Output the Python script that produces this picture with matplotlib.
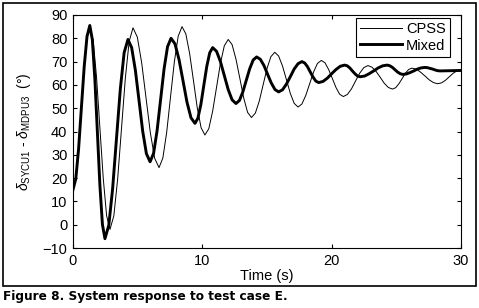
import matplotlib
matplotlib.use('Agg')
import matplotlib.pyplot as plt
from matplotlib.patches import Rectangle

# Time samples and rotor angle difference (deg)
t_cpss = [0, 0.217, 0.433, 0.65, 0.867, 1.083, 1.3,
          1.56, 1.82, 2.08, 2.34, 2.6, 2.86,
          3.157, 3.453, 3.75, 4.047, 4.343, 4.64,
          4.975, 5.31, 5.645, 5.98, 6.315, 6.65,
          6.947, 7.243, 7.54, 7.837, 8.133, 8.43,
          8.725, 9.02, 9.315, 9.61, 9.905, 10.2,
          10.5, 10.8, 11.1, 11.4, 11.7, 12.0,
          12.3, 12.6, 12.9, 13.2, 13.5, 13.8,
          14.1, 14.4, 14.7, 15.0, 15.3, 15.6,
          15.9, 16.2, 16.5, 16.8, 17.1, 17.4,
          17.7, 18.0, 18.3, 18.6, 18.9, 19.2,
          19.483, 19.767, 20.05, 20.333, 20.617, 20.9,
          21.217, 21.533, 21.85, 22.167, 22.483, 22.8,
          23.117, 23.433, 23.75, 24.067, 24.383, 24.7,
          24.95, 25.2, 25.45, 25.7, 25.95, 26.2,
          26.533, 26.867, 27.2, 27.533, 27.867, 28.2,
          28.5, 28.8, 29.1, 29.4, 29.7, 30.0]
cpss = [15, 19.7, 32.5, 50, 67.5, 80.3, 85,
        79.2, 63.3, 41.5, 19.8, 3.8, -2,
        3.8, 19.6, 41.3, 62.9, 78.7, 84.5,
        80.5, 69.5, 54.5, 39.5, 28.5, 24.5,
        28.6, 39.6, 54.8, 69.9, 80.9, 85,
        81.9, 73.4, 61.8, 50.1, 41.6, 38.5,
        41.2, 48.8, 59, 69.3, 76.8, 79.5,
        77.3, 71.1, 62.8, 54.4, 48.2, 46,
        47.9, 53, 60, 67, 72.1, 74,
        72.4, 68.1, 62.3, 56.4, 52.1, 50.5,
        51.8, 55.5, 60.5, 65.5, 69.2, 70.5,
        69.5, 66.6, 62.8, 58.9, 56.0, 55,
        55.9, 58.3, 61.7, 65.0, 67.4, 68.3,
        67.6, 65.8, 63.3, 60.7, 58.9, 58.2,
        58.8, 60.5, 62.7, 65.0, 66.6, 67.2,
        66.8, 65.5, 63.9, 62.2, 61.0, 60.5,
        60.9, 62.0, 63.5, 65.0, 66.1, 66.5]

t_mixed = [0, 0.217, 0.433, 0.65, 0.867, 1.083, 1.3,
           1.495, 1.69, 1.885, 2.08, 2.275, 2.47,
           2.767, 3.063, 3.36, 3.657, 3.953, 4.25,
           4.535, 4.82, 5.105, 5.39, 5.675, 5.96,
           6.23, 6.5, 6.77, 7.04, 7.31, 7.58,
           7.888, 8.197, 8.505, 8.813, 9.122, 9.43,
           9.658, 9.887, 10.115, 10.343, 10.572, 10.8,
           11.1, 11.4, 11.7, 12.0, 12.3, 12.6,
           12.867, 13.133, 13.4, 13.667, 13.933, 14.2,
           14.483, 14.767, 15.05, 15.333, 15.617, 15.9,
           16.2, 16.5, 16.8, 17.1, 17.4, 17.7,
           17.917, 18.133, 18.35, 18.567, 18.783, 19.0,
           19.333, 19.667, 20.0, 20.333, 20.667, 21.0,
           21.2, 21.4, 21.6, 21.8, 22.0, 22.2,
           22.55, 22.9, 23.25, 23.6, 23.95, 24.3,
           24.5, 24.7, 24.9, 25.1, 25.3, 25.5,
           25.783, 26.067, 26.35, 26.633, 26.917, 27.2,
           27.4, 27.6, 27.8, 28.0, 28.2, 28.4,
           29.2, 30.0]
mixed = [15, 19.7, 32.6, 50.3, 67.9, 80.8, 85.5,
         79.4, 62.6, 39.8, 16.9, 0.1, -6,
         -0.3, 15.4, 36.8, 58.1, 73.8, 79.5,
         76.0, 66.4, 53.3, 40.1, 30.5, 27,
         30.6, 40.3, 53.5, 66.8, 76.4, 80,
         77.6, 70.9, 61.8, 52.6, 45.9, 43.5,
         45.7, 51.6, 59.8, 67.9, 73.8, 76,
         74.4, 70, 64, 58, 53.6, 52,
         53.3, 57, 62, 67, 70.7, 72,
         71.0, 68.3, 64.5, 60.8, 58.0, 57,
         57.9, 60.3, 63.5, 66.8, 69.1, 70,
         69.4, 67.8, 65.5, 63.3, 61.6, 61,
         61.5, 62.9, 64.8, 66.6, 68.0, 68.5,
         68.2, 67.3, 66.0, 64.8, 63.8, 63.5,
         63.8, 64.8, 66.0, 67.3, 68.2, 68.5,
         68.2, 67.5, 66.5, 65.5, 64.8, 64.5,
         64.7, 65.3, 66.0, 66.8, 67.3, 67.5,
         67.4, 67.1, 66.8, 66.4, 66.1, 66.0,
         66.1, 66.2]

x_ticks = [0, 10, 20, 30]
y_ticks = [-10, 0, 10, 20, 30, 40, 50, 60, 70, 80, 90]

plt.rcParams['font.family'] = ['Liberation Sans', 'DejaVu Sans']
plt.rcParams['mathtext.fontset'] = 'custom'
plt.rcParams['mathtext.rm'] = 'Liberation Sans'
plt.rcParams['mathtext.it'] = 'Liberation Sans:italic'

fig = plt.figure(figsize=(4.79, 3.08), dpi=100)
ax = fig.add_axes([0.1524, 0.1948, 0.81, 0.7565])

# Plot both controllers
ax.plot(t_cpss, cpss, color='black', linewidth=0.7, label='CPSS')
ax.plot(t_mixed, mixed, color='black', linewidth=2.1, label='Mixed')

ax.set_xlim(0, 30)
ax.set_ylim(-10, 90)
ax.set_xticks(x_ticks)
ax.set_yticks(y_ticks)
ax.tick_params(direction='in', length=3, width=0.8, labelsize=10.5,
               top=True, right=True, pad=4)
for s in ax.spines.values():
    s.set_linewidth(0.8)

# Labels
ax.set_xlabel('Time (s)', fontsize=10.5, labelpad=1)
ax.set_ylabel(r'$\delta_{\mathrm{SYCU1}}$ - $\delta_{\mathrm{MDPU3}}$  (°)', fontsize=10, labelpad=7)

leg = ax.legend(loc='upper right', bbox_to_anchor=(0.9716, 0.987), borderaxespad=0,
                fontsize=10.5, fancybox=False, framealpha=1, edgecolor='black',
                handlelength=2.9, handletextpad=0.25, labelspacing=0.15, borderpad=0.3)
leg.get_frame().set_linewidth(0.8)

# Outer frame and caption
fig.patches.append(Rectangle((0.0063, 0.0714), 0.987, 0.919, transform=fig.transFigure,
                             fill=False, edgecolor='black', linewidth=1.2))
fig.text(0.007, 0.036, 'Figure 8. System response to test case E.', fontsize=8.7,
         fontweight='bold', family='DejaVu Sans', va='center', ha='left')

plt.savefig('out.png', dpi=100)
